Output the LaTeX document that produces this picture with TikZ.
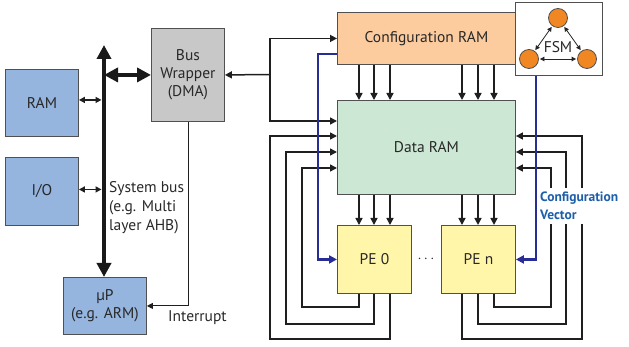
\documentclass[tikz,border=0pt]{standalone}
\usepackage{fontspec}
\setmainfont{PT Sans}
\usetikzlibrary{arrows.meta,calc}
\definecolor{boxblue}{RGB}{149,180,222}
\definecolor{boxgray}{RGB}{200,200,200}
\definecolor{cfgorange}{RGB}{252,204,158}
\definecolor{datagreen}{RGB}{204,232,212}
\definecolor{peyellow}{RGB}{255,246,170}
\definecolor{fsmorange}{RGB}{240,135,35}
\definecolor{cvblue}{RGB}{40,45,150}
\definecolor{cvtext}{RGB}{30,95,170}
\definecolor{edge}{RGB}{80,80,80}
\definecolor{txt}{RGB}{40,40,40}
\begin{document}
\begin{tikzpicture}[x=1pt,y=-1pt,
  box/.style={draw=edge, line width=0.9pt, anchor=north west, inner sep=0pt,
    align=center, text=txt, font=\fontsize{15.5}{18}\selectfont},
  ln/.style={line width=1.5pt, draw=black!88},
  arr/.style={ln, -{Triangle[length=7pt,width=7pt]}},
  dbl/.style={ln, {Triangle[length=6pt,width=6pt]}-{Triangle[length=6pt,width=6pt]}},
  thinarr/.style={line width=0.9pt, draw=black!88, -{Triangle[length=6pt,width=6pt]}},
  bus/.style={line width=4.5pt, draw=black!90, {Triangle[length=14pt,width=14pt]}-{Triangle[length=14pt,width=14pt]}},
  bl/.style={line width=2.2pt, draw=cvblue, -{Triangle[length=8pt,width=8pt]}},
  fsmarr/.style={line width=0.8pt, draw=black!85, {Triangle[length=4.5pt,width=4.5pt]}-{Triangle[length=4.5pt,width=4.5pt]}, shorten <=1pt, shorten >=1pt},
  st/.style={draw=edge, line width=0.8pt, circle, fill=fsmorange, minimum size=19pt, inner sep=0pt},
  lbl/.style={text=txt, font=\fontsize{15.5}{18}\selectfont, inner sep=0pt}
]
\useasboundingbox (0,0) rectangle (629,347);

% boxes
\node[box, fill=boxblue, minimum width=73pt, minimum height=67pt] (ram) at (5,69) {RAM};
\node[box, fill=boxblue, minimum width=73pt, minimum height=68pt] (io) at (5,157) {I/O};
\node[box, fill=boxblue, minimum width=83pt, minimum height=57pt] (up) at (63,277) {μP\\(e.g. ARM)};
\node[box, fill=boxgray, minimum width=73pt, minimum height=93pt] (bw) at (151,28) {Bus\\Wrapper\\(DMA)};
\node[box, fill=cfgorange, minimum width=178pt, minimum height=52pt] (cram) at (337,12) {Configuration RAM};
\node[box, fill=datagreen, minimum width=178pt, minimum height=94pt] (dram) at (337,100) {Data RAM};
\node[box, fill=peyellow, minimum width=74pt, minimum height=68pt] (pe0) at (337,225) {PE 0};
\node[box, fill=peyellow, minimum width=74pt, minimum height=68pt] (pen) at (441,225) {PE n};
\node[lbl] (dots) at (426,259) {$\cdots$};

% FSM
\node[box, fill=white, minimum width=87pt, minimum height=73pt] (fsm) at (515,2) {};
\node[st] (s1) at (558,18) {};
\node[st] (s2) at (529,59) {};
\node[st] (s3) at (587,59) {};
\node[lbl] (fsmlbl) at (558,47) {FSM};
\draw[fsmarr] (s1) -- (s2);
\draw[fsmarr] (s1) -- (s3);
\draw[fsmarr] (s2) -- (s3);

% system bus
\coordinate (bustop) at (104,45);
\draw[bus] (bustop) -- (up.north -| bustop);
\draw[bus] (bw.west -| bustop) -- (bw.west);
\draw[dbl] ([yshift=3pt]ram.east) -- ([yshift=3pt,xshift=-2.5pt]ram.east -| bustop);
\draw[dbl] ([yshift=2pt]io.east) -- ([yshift=2pt,xshift=-2.5pt]io.east -| bustop);
\node[lbl, anchor=north west, align=left, font=\fontsize{15.5}{19}\selectfont] (sysbus) at (109,181) {System bus\\(e.g. Multi\\layer AHB)};

% interrupt
\draw[thinarr] (bw.south) |- (up.east);
\node[lbl, anchor=north west] (intr) at (168,310) {Interrupt};

% bus wrapper to RAMs
\coordinate (j) at (270,74.5);
\draw[arr] (j) -- (bw.east);
\draw[arr] (j) |- (cram.west);
\draw[arr] (j) |- ($(dram.north west)+(0,21)$);

% config RAM -> data RAM
\foreach \o in {22,37,53,125,141,157}
  \draw[arr] ($(cram.south west)+(\o,0)$) -- ($(dram.north west)+(\o,0)$);
% data RAM -> PEs
\foreach \o in {22,37,53}
  \draw[arr] ($(dram.south west)+(\o,0)$) -- ($(pe0.north west)+(\o,0)$);
\foreach \o/\p in {21/125,37/141,53/157}
  \draw[arr] ($(dram.south west)+(\p,0)$) -- ($(pen.north west)+(\o,0)$);

% feedback left
\draw[arr] ($(pe0.south west)+(22,0)$) |- (302,307) |- ($(dram.north west)+(0,68)$);
\draw[arr] ($(pe0.south west)+(37,0)$) |- (286,324) |- ($(dram.north west)+(0,52)$);
\draw[arr] ($(pe0.south west)+(53,0)$) |- (270,339) |- ($(dram.north west)+(0,36)$);
% feedback right
\draw[arr] ($(pen.south west)+(21,0)$) |- (582,339) |- ($(dram.north east)+(0,36)$);
\draw[arr] ($(pen.south west)+(37,0)$) |- (566,324) |- ($(dram.north east)+(0,52)$);
\draw[arr] ($(pen.south west)+(53,0)$) |- (551,307) |- ($(dram.north east)+(0,68)$);

% configuration vector label
\node[anchor=north west, fill=white, inner xsep=2pt, inner ysep=4pt, align=left, text=cvtext,
  font=\fontsize{13.5}{17.5}\selectfont\bfseries] (cv) at (538,188) {Configuration\\Vector};

% configuration vector (blue)
\draw[bl] ($(cram.south west)+(0,-11)$) -| ($(pe0.west)+(-19,0)$) -- (pe0.west);
\draw[bl] ($(fsm.south west)+(21,0)$) |- (pen.east);
\end{tikzpicture}
\end{document}
